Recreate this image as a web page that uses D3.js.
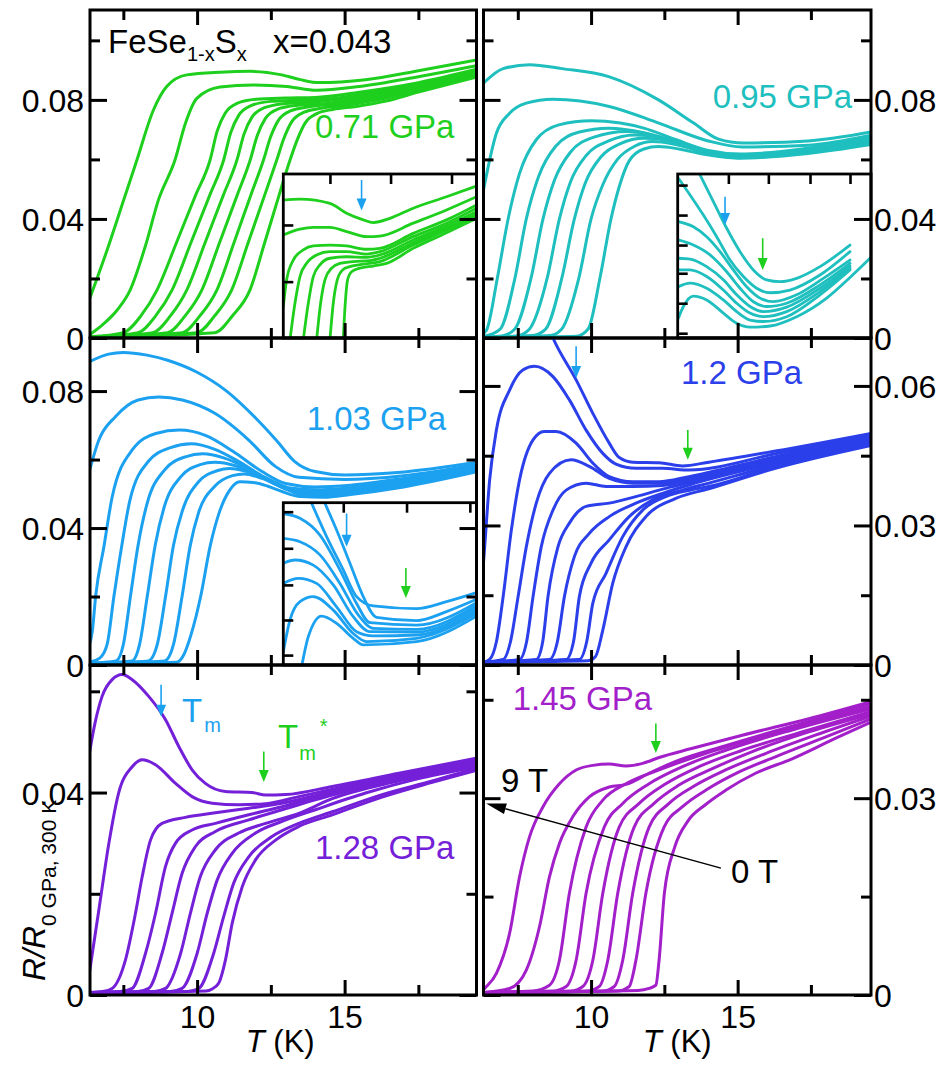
<!DOCTYPE html>
<html><head><meta charset="utf-8">
<script src="https://cdn.jsdelivr.net/npm/d3@7"></script>
<style>body{margin:0;background:#fff} text{font-family:"Liberation Sans",Arial,Helvetica,sans-serif}</style>
</head><body>
<script>
// ---------- DATA: curves [T (K), R/R(0GPa,300K)], fields 9 T ... 0 T ----------
const p071 = [
 [[6.37,0.0135],[7.0,0.031],[7.5,0.046],[7.96,0.0598],[8.52,0.0766],[8.97,0.0845],[9.65,0.0884],[10.78,0.0893],[11.8,0.0896],[12.87,0.0884],[13.5,0.0868],[14.13,0.0858],[15.71,0.0868],[17.5,0.0898],[19.47,0.0934]],
 [[6.37,0.0012],[6.8,0.0045],[7.3,0.0095],[7.73,0.0161],[8.25,0.031],[8.69,0.0464],[9.25,0.0598],[9.6,0.072],[9.99,0.0805],[10.78,0.0843],[11.91,0.085],[13.04,0.0845],[14.06,0.0832],[15.5,0.0845],[17.5,0.0878],[19.47,0.0915]],
 [[6.37,0.0004],[7.5,0.0018],[8.1,0.0075],[8.64,0.0161],[9.3,0.032],[9.95,0.048],[10.44,0.0598],[10.68,0.0695],[10.95,0.0755],[11.35,0.0788],[12.0,0.0802],[13.0,0.0806],[14.0,0.0808],[15.5,0.0826],[17.5,0.0858],[19.47,0.0903]],
 [[6.37,0.0003],[8.0,0.0018],[8.6,0.0075],[9.15,0.0161],[9.79,0.032],[10.43,0.048],[10.9,0.0598],[11.14,0.069],[11.41,0.0748],[11.81,0.078],[12.5,0.0795],[13.5,0.0799],[14.5,0.0803],[15.5,0.0818],[17.5,0.0852],[19.47,0.0897]],
 [[6.37,0.0003],[8.5,0.0018],[9.1,0.0075],[9.65,0.0161],[10.27,0.032],[10.89,0.048],[11.35,0.0598],[11.59,0.0685],[11.86,0.0742],[12.26,0.0773],[13.0,0.0788],[14.0,0.0793],[15.5,0.0811],[17.5,0.0846],[19.47,0.0892]],
 [[6.37,0.0003],[9.0,0.0018],[9.6,0.0075],[10.16,0.0161],[10.76,0.032],[11.36,0.048],[11.8,0.0598],[12.04,0.068],[12.31,0.0737],[12.71,0.0768],[13.4,0.0782],[14.5,0.0789],[15.5,0.0805],[17.5,0.0841],[19.47,0.0888]],
 [[6.37,0.0003],[9.5,0.0018],[10.1,0.0075],[10.67,0.0161],[11.25,0.032],[11.82,0.048],[12.25,0.0598],[12.49,0.0675],[12.76,0.0732],[13.16,0.0763],[13.8,0.0777],[14.8,0.0786],[15.7,0.080],[17.5,0.0836],[19.47,0.0884]],
 [[6.37,0.0003],[10.0,0.0018],[10.6,0.0075],[11.17,0.0161],[11.73,0.032],[12.29,0.048],[12.7,0.0598],[12.94,0.067],[13.21,0.0727],[13.61,0.0758],[14.2,0.0772],[15.0,0.0781],[16.0,0.0798],[17.5,0.0831],[19.47,0.088]],
 [[6.37,0.0003],[10.6,0.0018],[11.2,0.0075],[11.79,0.0161],[12.29,0.032],[12.78,0.048],[13.15,0.0598],[13.39,0.0665],[13.66,0.0722],[14.06,0.0754],[14.6,0.0768],[15.4,0.0778],[16.4,0.0796],[17.5,0.0826],[19.47,0.0877]]
];
const p095 = [
 [[6.33,0.0856],[7.0,0.0905],[7.9,0.0918],[9.0,0.0905],[10.6,0.0878],[12.3,0.080],[13.5,0.0722],[14.35,0.0668],[15.2,0.0655],[17.4,0.0662],[19.55,0.0692]],
 [[6.33,0.0497],[6.77,0.0688],[7.22,0.0755],[7.79,0.0789],[8.7,0.0802],[10.62,0.0778],[12.31,0.0722],[14.0,0.0662],[15.16,0.0642],[17.43,0.0648],[19.55,0.0681]],
 [[6.33,0.0015],[6.45,0.003],[6.8,0.02],[7.17,0.040],[7.56,0.0553],[8.13,0.0666],[8.9,0.0716],[10.0,0.073],[11.0,0.0722],[11.8,0.0705],[12.9,0.0666],[14.0,0.063],[15.1,0.0618],[17.4,0.0638],[19.55,0.0673]],
 [[6.33,0.0005],[6.9,0.003],[7.4,0.02],[7.79,0.040],[8.2,0.054],[8.8,0.0645],[9.6,0.0692],[10.6,0.0705],[11.8,0.069],[12.9,0.0658],[14.0,0.0625],[15.1,0.0614],[17.4,0.0633],[19.55,0.0669]],
 [[6.33,0.0003],[7.0,0.0008],[7.4,0.003],[7.95,0.02],[8.36,0.040],[8.75,0.053],[9.3,0.0625],[10.1,0.0675],[11.2,0.0694],[12.2,0.068],[13.0,0.0655],[14.0,0.0622],[15.1,0.0611],[17.4,0.063],[19.55,0.0665]],
 [[6.33,0.0002],[7.5,0.0008],[7.9,0.003],[8.5,0.02],[8.92,0.040],[9.3,0.0525],[9.85,0.0615],[10.6,0.0662],[11.5,0.0682],[12.3,0.0675],[13.1,0.065],[14.0,0.062],[15.1,0.0609],[17.4,0.0627],[19.55,0.0661]],
 [[6.33,0.0002],[8.0,0.0008],[8.45,0.003],[9.0,0.02],[9.43,0.040],[9.8,0.052],[10.35,0.061],[11.0,0.0653],[11.8,0.0671],[12.5,0.0666],[13.2,0.0645],[14.0,0.0618],[15.1,0.0607],[17.4,0.0624],[19.55,0.0657]],
 [[6.33,0.0002],[8.6,0.0008],[9.0,0.003],[9.58,0.02],[10.0,0.040],[10.4,0.0515],[10.9,0.060],[11.5,0.0645],[12.1,0.066],[12.8,0.0652],[13.5,0.0635],[14.2,0.0614],[15.1,0.0606],[17.4,0.0622],[19.55,0.0654]],
 [[6.33,0.0002],[9.5,0.0006],[9.9,0.003],[10.3,0.02],[10.68,0.040],[10.96,0.0508],[11.3,0.0595],[11.8,0.0635],[12.3,0.0643],[13.0,0.0635],[13.8,0.0618],[15.0,0.0604],[17.4,0.062],[19.55,0.065]]
];
const p103 = [
 [[6.33,0.0885],[7.0,0.0908],[7.5,0.0913],[8.3,0.0905],[9.0,0.089],[10.0,0.0855],[11.0,0.080],[12.0,0.072],[12.7,0.0655],[13.3,0.0595],[14.0,0.0565],[15.0,0.0555],[16.8,0.0562],[19.47,0.0592]],
 [[6.33,0.056],[6.67,0.0657],[7.23,0.0725],[8.0,0.0774],[8.7,0.0783],[9.5,0.0774],[10.6,0.0735],[11.75,0.0657],[12.65,0.058],[13.45,0.0548],[15.0,0.0542],[17.0,0.0553],[19.47,0.0586]],
 [[6.33,0.0053],[6.45,0.01],[6.56,0.02],[6.85,0.035],[7.12,0.049],[7.8,0.0628],[8.6,0.0676],[9.4,0.0686],[10.3,0.067],[11.2,0.0625],[12.2,0.0565],[13.0,0.053],[14.0,0.052],[15.2,0.0525],[17.0,0.0545],[19.47,0.0582]],
 [[6.33,0.0008],[6.7,0.002],[6.95,0.006],[7.18,0.02],[7.45,0.035],[7.72,0.048],[8.35,0.0595],[9.1,0.0635],[9.8,0.0646],[10.6,0.063],[11.4,0.0595],[12.3,0.0548],[13.1,0.0518],[14.0,0.0512],[15.2,0.0518],[17.0,0.054],[19.47,0.0578]],
 [[6.33,0.0005],[7.25,0.0012],[7.5,0.006],[7.74,0.02],[8.0,0.035],[8.3,0.047],[8.9,0.057],[9.6,0.0608],[10.2,0.0617],[10.9,0.0605],[11.7,0.0575],[12.5,0.0535],[13.2,0.051],[14.0,0.0506],[15.2,0.0513],[17.0,0.0535],[19.47,0.0575]],
 [[6.33,0.0005],[7.8,0.0012],[8.05,0.006],[8.31,0.02],[8.58,0.035],[8.88,0.046],[9.45,0.055],[10.1,0.0585],[10.6,0.0592],[11.3,0.0582],[12.0,0.0558],[12.8,0.0525],[13.4,0.0505],[14.2,0.0502],[15.2,0.0509],[17.0,0.053],[19.47,0.0572]],
 [[6.33,0.0005],[8.35,0.0012],[8.65,0.006],[8.93,0.02],[9.2,0.035],[9.5,0.045],[10.05,0.0535],[10.7,0.0568],[11.1,0.0574],[11.7,0.0565],[12.4,0.0542],[13.1,0.0515],[13.6,0.050],[14.3,0.0498],[15.2,0.0505],[17.0,0.0527],[19.47,0.057]],
 [[6.33,0.0005],[8.9,0.0012],[9.2,0.006],[9.49,0.02],[9.77,0.035],[10.05,0.0445],[10.6,0.0522],[11.2,0.0553],[11.6,0.0558],[12.2,0.0545],[12.9,0.0518],[13.5,0.0498],[14.3,0.0494],[15.2,0.0502],[17.0,0.0524],[19.47,0.0567]],
 [[6.33,0.0005],[9.3,0.0008],[9.55,0.003],[9.8,0.009],[10.12,0.02],[10.45,0.035],[10.75,0.0445],[11.1,0.051],[11.45,0.0535],[11.9,0.0533],[12.4,0.0522],[12.9,0.0506],[13.5,0.0492],[14.3,0.049],[15.2,0.0498],[17.0,0.052],[19.47,0.0564]]
];
const p120 = [
 [[6.33,0.084],[7.5,0.0835],[8.2,0.0785],[8.7,0.0703],[9.49,0.0613],[10.06,0.0541],[10.62,0.0477],[10.96,0.0446],[11.42,0.0436],[12.32,0.0435],[13.12,0.0428],[14.02,0.0436],[16.29,0.046],[19.55,0.0498]],
 [[6.33,0.022],[6.37,0.0254],[6.54,0.0398],[6.77,0.0505],[7.22,0.0591],[7.67,0.0634],[8.07,0.0642],[8.7,0.062],[9.26,0.057],[9.83,0.0505],[10.4,0.0455],[10.85,0.0432],[11.53,0.0423],[12.44,0.0423],[13.34,0.0419],[16.29,0.0454],[19.55,0.0494]],
 [[6.33,0.0006],[6.54,0.0012],[6.77,0.005],[7.0,0.0147],[7.28,0.029],[7.56,0.0398],[8.02,0.0484],[8.4,0.0502],[8.81,0.0502],[9.49,0.0477],[10.06,0.0434],[10.62,0.0405],[11.42,0.0394],[12.32,0.0394],[13.34,0.0405],[16.29,0.0448],[19.55,0.049]],
 [[6.33,0.0006],[7.0,0.0012],[7.25,0.005],[7.51,0.0147],[7.79,0.0254],[8.13,0.0348],[8.58,0.0412],[9.32,0.0441],[9.94,0.0427],[10.62,0.0401],[11.42,0.0391],[12.44,0.0391],[13.34,0.0401],[16.29,0.0444],[19.55,0.0487]],
 [[6.33,0.0006],[7.56,0.0012],[7.8,0.005],[8.02,0.0147],[8.3,0.0254],[8.7,0.0333],[9.15,0.0376],[9.83,0.0391],[10.51,0.0384],[11.42,0.0384],[12.44,0.0386],[13.34,0.0396],[16.29,0.0441],[19.55,0.0485]],
 [[6.33,0.0006],[8.13,0.0012],[8.35,0.005],[8.53,0.0147],[8.87,0.0254],[9.26,0.0305],[9.83,0.0341],[10.62,0.0348],[11.53,0.0362],[12.44,0.0378],[13.34,0.0392],[16.29,0.0437],[19.55,0.0483]],
 [[6.33,0.0006],[8.58,0.0012],[8.85,0.005],[9.09,0.0147],[9.43,0.0233],[9.94,0.0283],[10.62,0.0319],[11.53,0.0348],[12.44,0.0369],[13.34,0.0387],[16.29,0.0434],[19.55,0.0481]],
 [[6.33,0.0006],[9.15,0.0012],[9.4,0.005],[9.6,0.0147],[10.0,0.0219],[10.62,0.0269],[11.3,0.0319],[12.1,0.0355],[13.12,0.0376],[14.02,0.0391],[16.29,0.043],[19.55,0.0478]],
 [[6.33,0.0006],[9.6,0.0012],[9.85,0.005],[10.06,0.0133],[10.51,0.0197],[11.08,0.0276],[11.76,0.0333],[12.55,0.0362],[13.46,0.0377],[14.25,0.0387],[16.29,0.0427],[19.55,0.0475]],
 [[6.33,0.0006],[9.9,0.0009],[10.15,0.0018],[10.4,0.0075],[10.74,0.0176],[11.19,0.0254],[11.87,0.0319],[12.89,0.0358],[14.02,0.0379],[16.29,0.0423],[19.55,0.0472]]
];
const p128 = [
 [[6.33,0.0471],[6.55,0.054],[6.78,0.059],[7.12,0.0623],[7.46,0.0633],[7.8,0.0623],[8.36,0.059],[8.93,0.0544],[9.38,0.0491],[9.83,0.0445],[10.28,0.0418],[10.96,0.0402],[11.86,0.040],[12.32,0.0395],[13.0,0.0396],[14.58,0.0412],[16.84,0.0438],[19.47,0.0468]],
 [[6.33,0.0036],[6.67,0.0168],[7.01,0.030],[7.34,0.0399],[7.8,0.0451],[8.14,0.0465],[8.59,0.0455],[9.27,0.0418],[9.83,0.0392],[10.51,0.0379],[11.41,0.0376],[12.32,0.0378],[13.45,0.0392],[15.71,0.0421],[19.47,0.0465]],
 [[6.37,0.0005],[6.8,0.0007],[7.12,0.0013],[7.57,0.0069],[7.91,0.0161],[8.14,0.0234],[8.42,0.0306],[8.81,0.0339],[9.6,0.0351],[10.62,0.036],[11.75,0.0369],[12.88,0.0379],[14.58,0.0402],[16.84,0.0432],[19.47,0.0461]],
 [[6.37,0.0005],[7.4,0.0007],[7.8,0.0013],[8.25,0.0082],[8.59,0.0161],[8.93,0.0254],[9.27,0.030],[9.83,0.0326],[10.62,0.0339],[11.75,0.0356],[12.88,0.0372],[14.58,0.0399],[16.84,0.043],[19.47,0.0459]],
 [[6.37,0.0005],[8.0,0.0007],[8.36,0.0013],[8.81,0.0082],[9.15,0.0161],[9.49,0.024],[9.94,0.0293],[10.62,0.0323],[11.75,0.0346],[12.88,0.0366],[14.58,0.0395],[16.84,0.0427],[19.47,0.0457]],
 [[6.37,0.0005],[8.55,0.0007],[8.93,0.0013],[9.44,0.0082],[9.77,0.0161],[10.11,0.0234],[10.62,0.0287],[11.41,0.032],[12.32,0.0339],[13.45,0.0359],[14.58,0.0388],[16.84,0.0423],[19.47,0.0454]],
 [[6.37,0.0005],[9.1,0.0007],[9.49,0.0013],[10.0,0.0082],[10.34,0.0161],[10.68,0.0227],[11.19,0.028],[11.98,0.032],[12.88,0.0343],[14.01,0.0366],[15.71,0.0399],[17.4,0.0426],[19.47,0.0451]],
 [[6.37,0.0005],[9.7,0.0007],[10.06,0.0013],[10.56,0.0082],[10.9,0.0155],[11.24,0.0221],[11.75,0.0273],[12.54,0.0313],[13.45,0.0339],[14.58,0.0362],[16.27,0.0396],[17.97,0.0423],[19.47,0.0448]],
 [[6.37,0.0005],[10.3,0.0008],[10.51,0.0012],[10.73,0.0023],[10.96,0.0069],[11.19,0.0142],[11.53,0.0214],[11.98,0.0267],[12.66,0.0306],[13.45,0.0333],[14.58,0.0356],[16.27,0.0391],[17.97,0.042],[19.47,0.0444]]
];
const p145 = [
 [[6.33,0.0008],[6.37,0.001],[6.77,0.0033],[7.22,0.0094],[7.56,0.018],[7.9,0.0241],[8.36,0.0287],[8.92,0.0322],[9.49,0.0343],[10.06,0.035],[10.62,0.0352],[11.19,0.0349],[11.76,0.0353],[12.32,0.0362],[13.46,0.0376],[15.16,0.0396],[17.43,0.0421],[19.55,0.0447]],
 [[6.33,0.0004],[7.22,0.001],[7.79,0.0038],[8.24,0.0104],[8.58,0.018],[8.92,0.0231],[9.38,0.0272],[9.94,0.0302],[10.62,0.0317],[11.19,0.0321],[11.98,0.0338],[12.89,0.0356],[14.59,0.038],[17.43,0.0417],[19.55,0.0444]],
 [[6.33,0.0004],[8.0,0.0006],[8.58,0.0015],[8.92,0.0053],[9.26,0.0155],[9.83,0.0256],[10.4,0.0297],[11.19,0.0322],[12.32,0.0343],[14.02,0.037],[16.29,0.040],[19.55,0.044]],
 [[6.33,0.0004],[8.7,0.0006],[9.15,0.0013],[9.49,0.0053],[9.83,0.0155],[10.45,0.0256],[11.08,0.0292],[11.98,0.0322],[13.12,0.0348],[14.59,0.0373],[16.86,0.0404],[19.55,0.0436]],
 [[6.33,0.0004],[9.3,0.0006],[9.72,0.0013],[10.06,0.0053],[10.4,0.0155],[10.96,0.0256],[11.64,0.0292],[12.55,0.0322],[13.68,0.0348],[15.16,0.0373],[17.43,0.0404],[19.55,0.0432]],
 [[6.33,0.0004],[9.85,0.0006],[10.28,0.0013],[10.57,0.0053],[10.91,0.0155],[11.47,0.0256],[12.15,0.0292],[13.0,0.032],[14.14,0.0345],[15.5,0.0371],[17.43,0.0401],[19.55,0.0428]],
 [[6.33,0.0004],[10.4,0.0006],[10.79,0.0013],[11.08,0.0053],[11.42,0.0155],[11.98,0.0256],[12.66,0.0292],[13.46,0.0317],[14.59,0.0343],[15.95,0.0368],[17.65,0.0396],[19.55,0.0425]],
 [[6.33,0.0004],[10.9,0.0006],[11.3,0.0013],[11.53,0.0053],[11.87,0.0155],[12.49,0.0256],[13.12,0.0287],[14.02,0.0315],[15.05,0.034],[16.29,0.0363],[17.99,0.0393],[19.55,0.0421]],
 [[6.33,0.0004],[11.6,0.0007],[11.98,0.001],[12.21,0.0015],[12.32,0.0053],[12.5,0.0155],[12.85,0.0225],[13.3,0.0265],[13.9,0.029],[14.59,0.0312],[15.61,0.0338],[16.86,0.036],[18.33,0.0391],[19.55,0.0416]]
];
// insets (zoomed views, same field order)
const i071 = [
 [[10.0,0.0913],[10.5,0.0916],[11.4,0.0902],[11.9,0.0869],[12.4,0.0847],[12.7,0.0838],[13.2,0.0852],[13.9,0.0886],[14.9,0.0924],[15.8,0.096]],
 [[10.0,0.0797],[10.5,0.0816],[10.9,0.0822],[11.4,0.0822],[11.9,0.0808],[12.5,0.0791],[12.9,0.0793],[13.9,0.0836],[14.9,0.088],[15.8,0.0924]],
 [[10.0,0.0558],[10.1,0.0647],[10.3,0.0713],[10.6,0.0747],[10.9,0.076],[11.4,0.0763],[11.9,0.076],[12.5,0.0749],[12.9,0.0752],[13.9,0.0802],[14.9,0.0847],[15.8,0.0897]],
 [[10.2,0.0447],[10.35,0.0569],[10.5,0.0658],[10.7,0.0702],[11.0,0.073],[11.4,0.0741],[11.9,0.0741],[12.5,0.0733],[12.9,0.0741],[13.9,0.0791],[14.9,0.0836],[15.8,0.0886]],
 [[10.6,0.0447],[10.75,0.0569],[10.9,0.0658],[11.1,0.0697],[11.4,0.0719],[11.9,0.0724],[12.5,0.0722],[12.9,0.073],[13.9,0.078],[14.9,0.0827],[15.8,0.0874]],
 [[11.0,0.0447],[11.12,0.0569],[11.25,0.0647],[11.45,0.0686],[11.7,0.0702],[12.1,0.0708],[12.6,0.0711],[12.9,0.0719],[13.9,0.0771],[14.9,0.0819],[15.8,0.0866]],
 [[11.4,0.0447],[11.5,0.0569],[11.62,0.0647],[11.78,0.068],[12.0,0.0691],[12.4,0.0699],[12.9,0.0708],[13.9,0.0763],[14.9,0.0813],[15.8,0.0858]],
 [[11.8,0.0447],[11.86,0.0569],[11.93,0.0647],[12.05,0.0674],[12.3,0.0686],[12.7,0.0693],[13.1,0.0702],[13.9,0.0752],[14.9,0.0804],[15.8,0.0852]]
];
const i095 = [
 [[10.3,0.108],[10.67,0.0997],[11.07,0.0908],[11.47,0.0819],[11.87,0.0741],[12.27,0.068],[12.67,0.0647],[13.07,0.0641],[13.57,0.0652],[14.27,0.0691],[15.17,0.0763]],
 [[10.02,0.0986],[10.37,0.093],[10.77,0.0863],[11.17,0.0791],[11.57,0.0713],[11.97,0.0658],[12.37,0.0619],[12.77,0.0604],[13.37,0.0613],[14.27,0.0663],[15.17,0.0741]],
 [[10.02,0.0841],[10.47,0.0824],[10.87,0.0791],[11.27,0.0741],[11.67,0.068],[12.07,0.0624],[12.47,0.0586],[12.87,0.0574],[13.57,0.0597],[14.37,0.0652],[15.17,0.0713]],
 [[10.02,0.078],[10.47,0.0763],[10.97,0.073],[11.47,0.0674],[11.87,0.0619],[12.27,0.0574],[12.67,0.0558],[13.27,0.0569],[14.27,0.063],[15.17,0.0702]],
 [[10.02,0.0719],[10.37,0.0716],[10.87,0.0691],[11.37,0.0647],[11.77,0.0597],[12.17,0.0558],[12.57,0.0541],[13.27,0.0556],[14.27,0.0619],[15.17,0.0693]],
 [[10.02,0.068],[10.37,0.068],[10.87,0.0658],[11.37,0.0613],[11.77,0.0569],[12.17,0.0536],[12.57,0.0524],[13.27,0.0541],[14.27,0.0608],[15.17,0.0686]],
 [[10.02,0.0624],[10.37,0.0636],[10.87,0.0619],[11.37,0.058],[11.77,0.0541],[12.17,0.0513],[12.57,0.0508],[13.27,0.0524],[14.27,0.0597],[15.17,0.068]],
 [[10.02,0.0519],[10.17,0.0558],[10.47,0.0593],[10.87,0.058],[11.37,0.0536],[11.77,0.0502],[12.17,0.0489],[12.77,0.0493],[13.57,0.0524],[14.47,0.0586],[15.17,0.0655],[15.77,0.0719]]
];
const i103 = [
 [[10.6,0.106],[10.85,0.0998],[11.3,0.0887],[11.8,0.0776],[12.2,0.0687],[12.7,0.0656],[14.0,0.0647],[14.9,0.067],[15.8,0.070]],
 [[11.0,0.106],[11.25,0.0998],[11.6,0.0909],[12.0,0.0798],[12.4,0.0687],[12.8,0.0618],[14.0,0.0607],[14.9,0.0637],[15.8,0.0678]],
 [[10.0,0.0964],[10.5,0.0948],[11.1,0.0892],[11.7,0.0776],[12.2,0.0664],[12.6,0.060],[14.0,0.0592],[15.8,0.0667]],
 [[10.0,0.0881],[10.5,0.087],[11.1,0.0826],[11.7,0.0731],[12.25,0.0626],[12.7,0.0581],[14.0,0.0578],[15.8,0.0658]],
 [[10.0,0.0798],[10.35,0.0809],[10.9,0.0792],[11.5,0.0726],[12.1,0.062],[12.6,0.057],[14.0,0.0569],[15.8,0.0649]],
 [[10.0,0.0731],[10.45,0.0748],[11.0,0.0731],[11.6,0.0653],[12.2,0.057],[12.7,0.0556],[14.0,0.0559],[15.8,0.064]],
 [[10.0,0.0503],[10.2,0.0609],[10.5,0.067],[10.9,0.0687],[11.5,0.0642],[12.1,0.0564],[12.5,0.0537],[14.0,0.0548],[15.8,0.0631]],
 [[10.55,0.0453],[10.75,0.0553],[11.15,0.0622],[11.6,0.0598],[12.1,0.0548],[12.4,0.0526],[14.0,0.0537],[15.8,0.0622]]
];
// tick values
const xMajor = [10, 15], xMinor = [7.5, 12.5, 17.5];
const xLabels = [10, 15];
// arrows: [T, R_tail, R_tip]
const tmArrows = {B:[[11.42,0.0924,0.083]], C:[[11.9,0.0964,0.0853]], A:[[12.35,0.098,0.0878]], D:[[9.49,0.0685,0.0617]], E:[[8.78,0.0613,0.055]]};
const tmStarArrows = {B:[[12.55,0.0786,0.068]], C:[[13.68,0.0782,0.0682]], D:[[13.3,0.0505,0.0441]], E:[[12.26,0.0481,0.0421]], F:[[12.21,0.0414,0.0369]]};

// ---------- LAYOUT ----------
const BLUE = "#1ba1f0", GREEN = "#1ecf1e";
const panels = [
 {k:"A", box:[90,476.5,10,338], xd:[6.37,19.47], yd:[0,0.1102], color:"#1ecf1e", data:p071, yMaj:[0,0.04,0.08], yMin:[0.02,0.06,0.10], side:"L", label:"0.71 GPa", lx:315, ly:138.3},
 {k:"B", box:[483.5,871,10,338], xd:[6.33,19.55], yd:[0,0.1102], color:"#1fbfbf", data:p095, yMaj:[0,0.04,0.08], yMin:[0.02,0.06,0.10], side:"R", label:"0.95 GPa", lx:712.7, ly:108.3},
 {k:"C", box:[90,476.5,338,665], xd:[6.37,19.47], yd:[0,0.0955], color:"#1ba1f0", data:p103, yMaj:[0,0.04,0.08], yMin:[0.02,0.06], side:"L", label:"1.03 GPa", lx:306.7, ly:430},
 {k:"D", box:[483.5,871,338,665], xd:[6.33,19.55], yd:[0,0.0703], color:"#2b3fea", data:p120, yMaj:[0,0.03,0.06], yMin:[0.015,0.045], side:"R", label:"1.2 GPa", lx:681, ly:384},
 {k:"E", box:[90,476.5,665,995], xd:[6.37,19.47], yd:[0,0.0652], color:"#7420d8", data:p128, yMaj:[0,0.04], yMin:[0.02,0.06], side:"L", label:"1.28 GPa", lx:315, ly:859.3, bottom:true},
 {k:"F", box:[483.5,871,665,995], xd:[6.33,19.55], yd:[0,0.0503], color:"#a21fc9", data:p145, yMaj:[0,0.03], yMin:[0.015,0.045], side:"R", label:"1.45 GPa", lx:512.7, ly:710, bottom:true}
];
const insets = {
 A:{box:[283.3,476.5,174,338], xd:[10,15.8], yd:[0.0453,0.1], data:i071, xt:[11.4,13.22,15.05], yt:[0.083,0.0641]},
 B:{box:[677.7,871,174,338], xd:[10,15.8], yd:[0.0453,0.1], data:i095, xt:[11.52,12.72,13.97,15.17], yt:[0.0963,0.0863,0.0763,0.0669,0.0569,0.0469]},
 C:{box:[283.3,476.5,502.7,665], xd:[10,15.8], yd:[0.0459,0.1], data:i103, xt:[11.8,13.7,15.6], yt:[0.097,0.0848,0.0726,0.0609,0.0492]}
};

const svg = d3.select("body").append("svg").attr("width",946).attr("height",1065);
const defs = svg.append("defs");
const FS = 32;

function ticks(g, axis, tx, ty, vals, len, w) {
  const a = g.append("g").attr("transform",`translate(${tx},${ty})`)
    .call(axis.tickValues(vals).tickSize(len).tickFormat(""));
  a.select(".domain").remove();
  a.selectAll("text").remove();
  a.selectAll("line").attr("stroke","#000").attr("stroke-width",w);
}
function arrow(g, xs, ys, a, color) {
  const x = xs(a[0]), y0 = ys(a[1]), y1 = ys(a[2]);
  g.append("line").attr("x1",x).attr("x2",x).attr("y1",y0).attr("y2",y1-10)
    .attr("stroke",color).attr("stroke-width",1.6);
  g.append("path").attr("d",`M${x-5},${y1-12}L${x+5},${y1-12}L${x},${y1}Z`).attr("fill",color);
}
function curves(g, data, xs, ys, color, clipId, lw) {
  const line = d3.line().x(d=>xs(d[0])).y(d=>ys(d[1])).curve(d3.curveMonotoneX);
  g.append("g").attr("clip-path",`url(#${clipId})`)
   .selectAll("path").data(data).join("path")
   .attr("d",line).attr("fill","none").attr("stroke",color)
   .attr("stroke-width",lw).attr("stroke-linejoin","round").attr("stroke-linecap","round");
}

panels.forEach(p => {
  const [x0,x1,y0,y1] = p.box;
  const xs = d3.scaleLinear().domain(p.xd).range([x0,x1]);
  const ys = d3.scaleLinear().domain(p.yd).range([y1,y0]);
  const g = svg.append("g");
  defs.append("clipPath").attr("id","clip"+p.k).append("rect")
    .attr("x",x0).attr("y",y0).attr("width",x1-x0).attr("height",y1-y0);
  curves(g, p.data, xs, ys, p.color, "clip"+p.k, 3);

  const ins = insets[p.k];
  if (ins) {
    const [ix0,ix1,iy0,iy1] = ins.box;
    const ixs = d3.scaleLinear().domain(ins.xd).range([ix0,ix1]);
    const iys = d3.scaleLinear().domain(ins.yd).range([iy1,iy0]);
    g.append("rect").attr("x",ix0).attr("y",iy0).attr("width",ix1-ix0).attr("height",iy1-iy0).attr("fill","#fff");
    defs.append("clipPath").attr("id","iclip"+p.k).append("rect")
      .attr("x",ix0).attr("y",iy0).attr("width",ix1-ix0).attr("height",iy1-iy0);
    curves(g, ins.data, ixs, iys, p.color, "iclip"+p.k, 2.8);
    g.append("rect").attr("x",ix0).attr("y",iy0).attr("width",ix1-ix0).attr("height",iy1-iy0)
      .attr("fill","none").attr("stroke","#000").attr("stroke-width",2.8);
    ticks(g, d3.axisBottom(ixs), 0, iy0, ins.xt, 10, 2.6);
    ticks(g, d3.axisRight(iys), ix0, 0, ins.yt, 10, 2.6);
    (tmArrows[p.k]||[]).forEach(a => arrow(g, ixs, iys, a, BLUE));
    (tmStarArrows[p.k]||[]).forEach(a => arrow(g, ixs, iys, a, GREEN));
  } else {
    (tmArrows[p.k]||[]).forEach(a => arrow(g, xs, ys, a, BLUE));
    (tmStarArrows[p.k]||[]).forEach(a => arrow(g, xs, ys, a, GREEN));
  }

  // frame and ticks
  g.append("rect").attr("x",x0).attr("y",y0).attr("width",x1-x0).attr("height",y1-y0)
    .attr("fill","none").attr("stroke","#000").attr("stroke-width",3);
  ticks(g, d3.axisTop(xs), 0, y1, xMajor, 15, 3);
  ticks(g, d3.axisTop(xs), 0, y1, xMinor, 10, 3);
  ticks(g, d3.axisBottom(xs), 0, y0, xMajor, 15, 3);
  ticks(g, d3.axisBottom(xs), 0, y0, xMinor, 10, 3);
  ticks(g, d3.axisRight(ys), x0, 0, p.yMaj, 17, 3);
  ticks(g, d3.axisRight(ys), x0, 0, p.yMin, 10, 3);
  ticks(g, d3.axisLeft(ys), x1, 0, p.yMaj, 17, 3);
  ticks(g, d3.axisLeft(ys), x1, 0, p.yMin, 10, 3);

  // y tick labels
  const fmt = d => d === 0 ? "0" : d3.format(".2f")(d);
  const la = (p.side === "L" ? d3.axisLeft(ys) : d3.axisRight(ys))
     .tickValues(p.yMaj).tickSize(0).tickPadding(p.side === "L" ? 6 : 3).tickFormat(fmt);
  const lg = g.append("g").attr("transform",`translate(${p.side==="L"?x0:x1},0)`).call(la);
  lg.select(".domain").remove();
  lg.selectAll("text").attr("font-size",FS).attr("fill","#000").attr("dy","0.36em")
    .attr("font-family","'Liberation Sans',Arial,sans-serif");

  if (p.bottom) {
    const xa = d3.axisBottom(xs).tickValues(xLabels).tickSize(0).tickPadding(10).tickFormat(d3.format("d"));
    const xg = g.append("g").attr("transform",`translate(0,${y1})`).call(xa);
    xg.select(".domain").remove();
    xg.selectAll("text").attr("font-size",FS).attr("fill","#000")
      .attr("font-family","'Liberation Sans',Arial,sans-serif");
    const t = g.append("text").attr("x",(x0+x1)/2 + (p.k==="E"? -3 : 0)).attr("y",1052)
      .attr("text-anchor","middle").attr("font-size",31);
    t.append("tspan").attr("font-style","italic").text("T");
    t.append("tspan").text(" (K)");
  }

  g.append("text").attr("x",p.lx).attr("y",p.ly).attr("font-size",33).attr("fill",p.color).text(p.label);
});

// title in panel A
const tt = svg.append("text").attr("x",108).attr("y",53.3).attr("font-size",33).attr("fill","#000");
tt.append("tspan").text("FeSe");
tt.append("tspan").attr("font-size",20).attr("dy",8).text("1-x");
tt.append("tspan").attr("dy",-8).text("S");
tt.append("tspan").attr("font-size",20).attr("dy",8).text("x");
svg.append("text").attr("x",273).attr("y",53.3).attr("font-size",33).attr("fill","#000").text("x=0.043");

// T_m labels in panel E
const tm = svg.append("text").attr("x",182).attr("y",721.7).attr("font-size",33).attr("fill",BLUE);
tm.append("tspan").text("T");
tm.append("tspan").attr("font-size",20).attr("dy",10).attr("dx",2).text("m");
const ts = svg.append("text").attr("x",278).attr("y",748).attr("font-size",33).attr("fill",GREEN);
ts.append("tspan").text("T");
ts.append("tspan").attr("font-size",20).attr("dy",12).attr("dx",1).text("m");
ts.append("tspan").attr("font-size",20).attr("dy",-27).attr("dx",4).text("*");

// field arrow in panel F
(function(){
  const p = panels[5];
  const xs = d3.scaleLinear().domain(p.xd).range([p.box[0],p.box[1]]);
  const ys = d3.scaleLinear().domain(p.yd).range([p.box[3],p.box[2]]);
  const fieldArrow = [[14.43,0.01934],[6.42,0.0292]];
  const [a,b] = fieldArrow.map(d=>[xs(d[0]),ys(d[1])]);
  const dx=b[0]-a[0], dy=b[1]-a[1], L=Math.hypot(dx,dy), ux=dx/L, uy=dy/L;
  const hl=20, hw=5.5;
  const bx=b[0]-ux*hl, by=b[1]-uy*hl;
  svg.append("line").attr("x1",a[0]).attr("y1",a[1]).attr("x2",bx).attr("y2",by).attr("stroke","#000").attr("stroke-width",1.5);
  svg.append("path").attr("d",`M${b[0]},${b[1]}L${bx-uy*hw},${by+ux*hw}L${bx+uy*hw},${by-ux*hw}Z`).attr("fill","#000");
  svg.append("text").attr("x",501).attr("y",791.7).attr("font-size",33).text("9 T");
  svg.append("text").attr("x",731).attr("y",883.3).attr("font-size",33).text("0 T");
})();

// y-axis title
const yt = svg.append("text").attr("transform","translate(45,981) rotate(-90)").attr("font-size",32).attr("fill","#000");
yt.append("tspan").attr("font-style","italic").text("R/R");
yt.append("tspan").attr("font-size",21).attr("dy",11).text("0 GPa, 300 K");
</script>
</body></html>
